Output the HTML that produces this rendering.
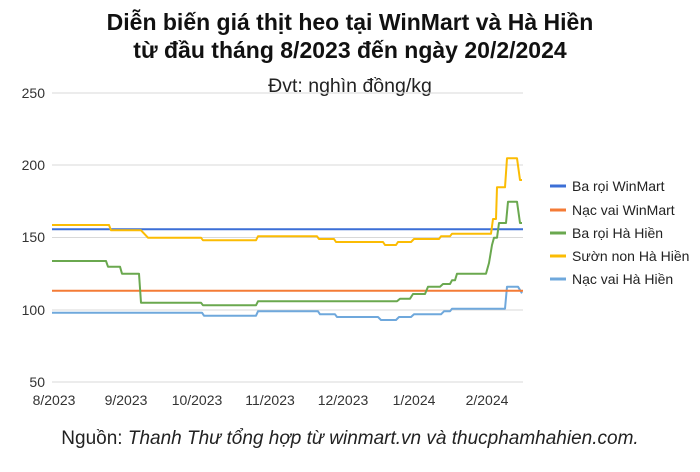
<!DOCTYPE html>
<html><head><meta charset="utf-8"><style>
body{margin:0;background:#fff;width:700px;height:467px;overflow:hidden;font-family:"Liberation Sans",sans-serif;}
</style></head><body>
<svg width="700" height="467" xmlns="http://www.w3.org/2000/svg" font-family="Liberation Sans, sans-serif">
<text x="350" y="30" text-anchor="middle" font-size="23" font-weight="bold" fill="#111">Diễn biến giá thịt heo tại WinMart và Hà Hiền</text>
<text x="350" y="58" text-anchor="middle" font-size="23" font-weight="bold" fill="#111">từ đầu tháng 8/2023 đến ngày 20/2/2024</text>
<text x="350" y="92" text-anchor="middle" font-size="19.5" fill="#222">Đvt: nghìn đồng/kg</text>
<g stroke="#d9d9d9" stroke-width="1">
<line x1="52" x2="523" y1="93" y2="93"/><line x1="52" x2="523" y1="165" y2="165"/><line x1="52" x2="523" y1="237.5" y2="237.5"/><line x1="52" x2="523" y1="310" y2="310"/><line x1="52" x2="523" y1="382" y2="382"/>
</g>
<g font-size="14" fill="#333" text-anchor="end">
<text x="45" y="98">250</text><text x="45" y="170">200</text><text x="45" y="242">150</text><text x="45" y="315">100</text><text x="45" y="387">50</text>
</g>
<g font-size="14" fill="#333" text-anchor="middle">
<text x="54" y="405">8/2023</text><text x="126" y="405">9/2023</text><text x="197" y="405">10/2023</text><text x="270" y="405">11/2023</text><text x="343" y="405">12/2023</text><text x="414" y="405">1/2024</text><text x="487" y="405">2/2024</text>
</g>
<g fill="none" stroke-width="2" stroke-linejoin="round">
<polyline stroke="#6fa8dc" points="52,312.7 202,312.7 204,315.7 256,315.7 258,311.3 318,311.3 320,314.3 335,314.3 337,317 378,317 381,320 396,320 399,317 411,317 414,314.3 441,314.3 444,311.3 450,311.3 452,308.7 505,308.7 507,286.7 518,286.7 522,293.3"/>
<polyline stroke="#3c6fd6" points="52,229.3 523,229.3"/>
<polyline stroke="#f47b36" points="52,290.7 523,290.7"/>
<polyline stroke="#6aa84f" points="52,261 106,261 108,266.7 120,266.7 122,273.7 139,273.7 141,302.7 201,302.7 203,305.3 256,305.3 258,301.3 397,301.3 400,298.7 410,298.7 413,294 425,294 428,286.7 440,286.7 443,284 450,284 452,280.3 455,280.3 457,273.7 486,273.7 489,263 492,245 494,237.7 497,237.7 499,223 506,223 508,201.7 517,201.7 520,223 522,223"/>
<polyline stroke="#fbbc04" points="52,225 109,225 111,230.3 141,230.3 148,237.7 201,237.7 203,240.3 256,240.3 258,236.3 317,236.3 319,239 334,239 336,242 383,242 385,245 396,245 398,242 411,242 414,239 439,239 441,236.3 450,236.3 452,233.7 491,233.7 493,219 496,219 497,187.3 505,187.3 507,158.3 517,158.3 520,180 522,180"/>
</g>
<g font-size="14" fill="#222">
<line x1="550" x2="566" y1="186" y2="186" stroke="#3c6fd6" stroke-width="3"/><text x="572" y="191">Ba rọi WinMart</text>
<line x1="550" x2="566" y1="210" y2="210" stroke="#f47b36" stroke-width="3"/><text x="572" y="215">Nạc vai WinMart</text>
<line x1="550" x2="566" y1="233" y2="233" stroke="#6aa84f" stroke-width="3"/><text x="572" y="238">Ba rọi Hà Hiền</text>
<line x1="550" x2="566" y1="256" y2="256" stroke="#fbbc04" stroke-width="3"/><text x="572" y="261">Sườn non Hà Hiền</text>
<line x1="550" x2="566" y1="279" y2="279" stroke="#6fa8dc" stroke-width="3"/><text x="572" y="284">Nạc vai Hà Hiền</text>
</g>
<text x="350" y="444" text-anchor="middle" font-size="19" fill="#222">Nguồn: <tspan font-style="italic">Thanh Thư tổng hợp từ winmart.vn và thucphamhahien.com.</tspan></text>
</svg>
</body></html>
